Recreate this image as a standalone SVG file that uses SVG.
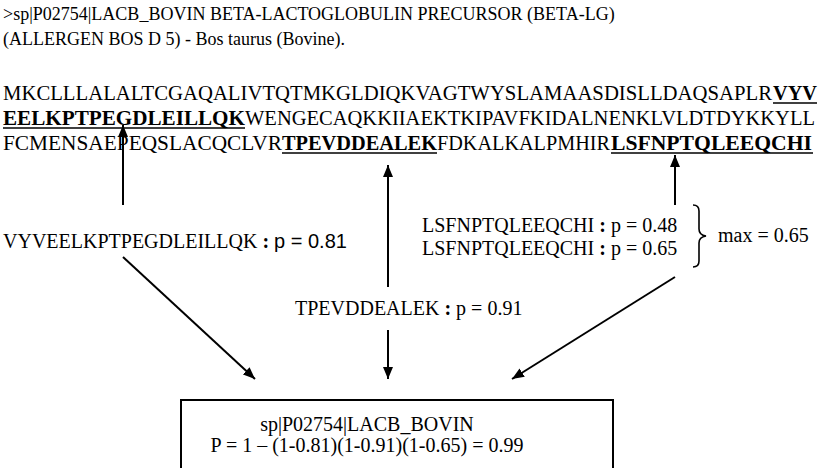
<svg xmlns="http://www.w3.org/2000/svg" width="820" height="468" viewBox="0 0 820 468">
<style>
text{font-family:"Liberation Serif","Times New Roman",serif;fill:#000}
.h{font-size:18px}
.s{font-size:21px}
.b{font-weight:bold}
.l{font-size:20px}
.a{font-family:"Liberation Sans",Arial,sans-serif}
.ul{stroke:#000;stroke-width:1.6}
.c line{stroke:#000;stroke-width:2}
</style>
<defs>
<marker id="ah" viewBox="0 0 12 10" refX="12" refY="5" markerWidth="12" markerHeight="10" markerUnits="userSpaceOnUse" orient="auto">
<path d="M0,0 L12,5 L0,10 z" fill="#000"/>
</marker>
</defs>
<g id="header">
<text class="h" x="3" y="20">&gt;sp|P02754|LACB_BOVIN BETA-LACTOGLOBULIN PRECURSOR (BETA-LG)</text>
<text class="h" x="3" y="45">(ALLERGEN BOS D 5) - Bos taurus (Bovine).</text>
</g>
<g id="sequence">
<text class="s" x="3" y="100" textLength="769" lengthAdjust="spacingAndGlyphs">MKCLLLALALTCGAQALIVTQTMKGLDIQKVAGTWYSLAMAASDISLLDAQSAPLR</text>
<text class="s b" x="773" y="100" textLength="44" lengthAdjust="spacingAndGlyphs">VYV</text>
<text class="s b" x="3" y="125" textLength="242" lengthAdjust="spacingAndGlyphs">EELKPTPEGDLEILLQK</text>
<text class="s" x="245" y="125" textLength="570" lengthAdjust="spacingAndGlyphs">WENGECAQKKIIAEKTKIPAVFKIDALNENKLVLDTDYKKYLL</text>
<text class="s" x="3" y="150" textLength="279" lengthAdjust="spacingAndGlyphs">FCMENSAEPEQSLACQCLVR</text>
<text class="s b" x="282" y="150" textLength="155" lengthAdjust="spacingAndGlyphs">TPEVDDEALEK</text>
<text class="s" x="437" y="150" textLength="173" lengthAdjust="spacingAndGlyphs">FDKALKALPMHIR</text>
<text class="s b" x="611" y="150" textLength="201" lengthAdjust="spacingAndGlyphs">LSFNPTQLEEQCHI</text>
<line class="ul" x1="773" y1="103" x2="817" y2="103"/>
<line class="ul" x1="3" y1="128" x2="245" y2="128"/>
<line class="ul" x1="282" y1="153" x2="437" y2="153"/>
<line class="ul" x1="611" y1="153" x2="813" y2="153"/>
</g>
<g id="peptide1">
<text class="l" x="3" y="248">VYVEELKPTPEGDLEILLQK<tspan class="b"> : </tspan><tspan class="a">p = 0.81</tspan></text>
</g>
<g id="peptide2">
<text class="l" x="295" y="315">TPEVDDEALEK <tspan class="b"> : </tspan>p = 0.91</text>
</g>
<g id="peptide3">
<text class="l" x="422" y="232">LSFNPTQLEEQCHI<tspan class="b"> : </tspan>p = 0.48</text>
<text class="l" x="422" y="255">LSFNPTQLEEQCHI<tspan class="b"> : </tspan>p = 0.65</text>
<path d="M693,205 Q699,205 699,211 L699,229 Q699,235 706,236 Q699,237 699,243 L699,261 Q699,267 693,267" fill="none" stroke="#000" stroke-width="1.6"/>
<text class="l" x="718" y="242">max = 0.65</text>
</g>
<g id="result">
<rect x="181" y="400" width="432" height="80" fill="none" stroke="#000" stroke-width="2"/>
<text class="l" x="367" y="431" text-anchor="middle">sp|P02754|LACB_BOVIN</text>
<text class="l" x="367" y="452" text-anchor="middle">P = 1 – (1-0.81)(1-0.91)(1-0.65) = 0.99</text>
</g>
<g id="connectors" class="c">
<line x1="123" y1="205" x2="123" y2="125" marker-end="url(#ah)"/>
<line x1="388" y1="287" x2="388" y2="165" marker-end="url(#ah)"/>
<line x1="675" y1="205" x2="675" y2="155" marker-end="url(#ah)"/>
<line x1="123" y1="257" x2="255" y2="379" marker-end="url(#ah)"/>
<line x1="388" y1="330" x2="388" y2="379" marker-end="url(#ah)"/>
<line x1="675" y1="277" x2="512" y2="379" marker-end="url(#ah)"/>
</g>
</svg>
